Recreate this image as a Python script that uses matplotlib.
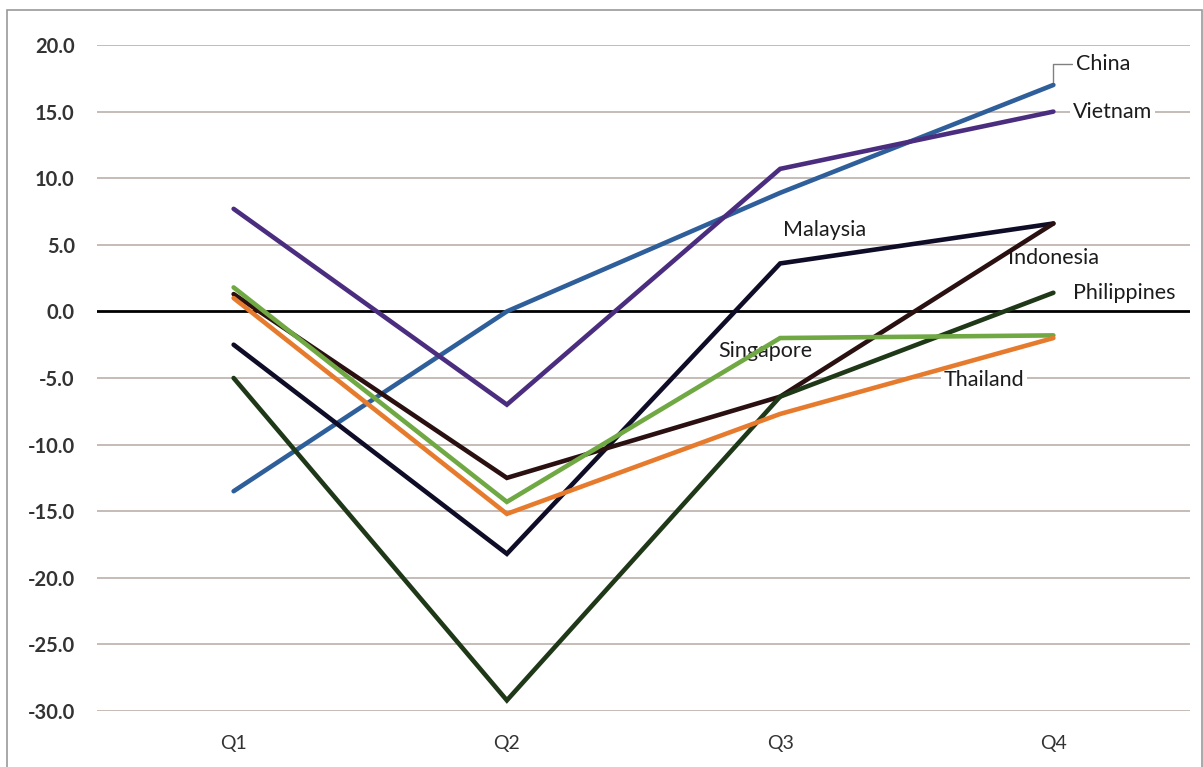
import matplotlib
matplotlib.use("Agg")
import matplotlib.pyplot as plt
from matplotlib.patches import Rectangle

plt.rcParams['font.family'] = ['Lato', 'DejaVu Sans']

quarters = ["Q1", "Q2", "Q3", "Q4"]

china = [-13.5, 0.0, 8.9, 17.0]
vietnam = [7.7, -7.0, 10.7, 15.0]
malaysia = [-2.5, -18.2, 3.6, 6.6]
indonesia = [1.3, -12.5, -6.4, 6.6]
philippines = [-5.0, -29.2, -6.4, 1.4]
singapore = [1.8, -14.3, -2.0, -1.8]
thailand = [1.0, -15.2, -7.7, -2.0]

y_ticks = [20, 15, 10, 5, 0, -5, -10, -15, -20, -25, -30]

series = [
    ("China", china, "#2F5F9A"),
    ("Vietnam", vietnam, "#4B2D80"),
    ("Malaysia", malaysia, "#0E0C26"),
    ("Indonesia", indonesia, "#2A1010"),
    ("Philippines", philippines, "#1F3818"),
    ("Singapore", singapore, "#70A844"),
    ("Thailand", thailand, "#E67B2E"),
]

# label placement: (anchor quarter index, offset in points, horizontal alignment)
label_pos = {
    "China": (3, (16, 15), "left"),
    "Vietnam": (3, (14, 0), "left"),
    "Malaysia": (2, (32, 24), "center"),
    "Indonesia": (3, (0, -25), "center"),
    "Philippines": (3, (14, 0), "left"),
    "Singapore": (2, (-11, -9), "center"),
    "Thailand": (3, (-50, -30), "center"),
}

fig = plt.figure(figsize=(12.03, 7.67), dpi=100)
ax = fig.add_axes([97 / 1203, 1 - 711 / 767, (1190 - 97) / 1203, (711 - 45) / 767])

x = list(range(len(quarters)))

for t in y_ticks:
    if t == 0:
        ax.axhline(t, color="#000000", lw=2.0, zorder=2)
    else:
        ax.axhline(t, color="#C5BCB8", lw=1.4, zorder=1)

for name, vals, col in series:
    ax.plot(x, vals, color=col, lw=3.3, solid_capstyle="round",
            solid_joinstyle="miter", zorder=3)

for name, vals, col in series:
    idx, off, ha = label_pos[name]
    kw = {}
    if name == "China":
        kw["arrowprops"] = dict(arrowstyle="-", color="#808080", lw=1.0,
                                connectionstyle="angle,angleA=0,angleB=90,rad=0",
                                shrinkA=1, shrinkB=2)
    ax.annotate(name, xy=(idx, vals[idx]), xytext=off, textcoords="offset points",
                ha=ha, va="center", fontsize=15.5, color="#1C1C1C",
                bbox=dict(boxstyle="square,pad=0.12", fc="white", ec="none"),
                zorder=2.5, **kw)

ax.set_xlim(-0.5, 3.5)
ax.set_ylim(-30, 20)
ax.set_yticks(y_ticks)
ax.set_yticklabels([f"{t:.1f}" for t in y_ticks], fontsize=14.5, fontweight="bold",
                   color="#333333")
ax.set_xticks(x)
ax.set_xticklabels(quarters, fontsize=14, color="#333333")
ax.tick_params(axis="both", length=0)
ax.tick_params(axis="y", pad=16)
ax.tick_params(axis="x", pad=17)
for s in ax.spines.values():
    s.set_visible(False)

fig.patches.append(Rectangle((7 / 1203, -0.01), (1202 - 7) / 1203, 1.01 - 10 / 767,
                             transform=fig.transFigure, fill=False,
                             edgecolor="#9A9A9A", lw=1.2))

fig.savefig("out.png", dpi=100, facecolor="white")
